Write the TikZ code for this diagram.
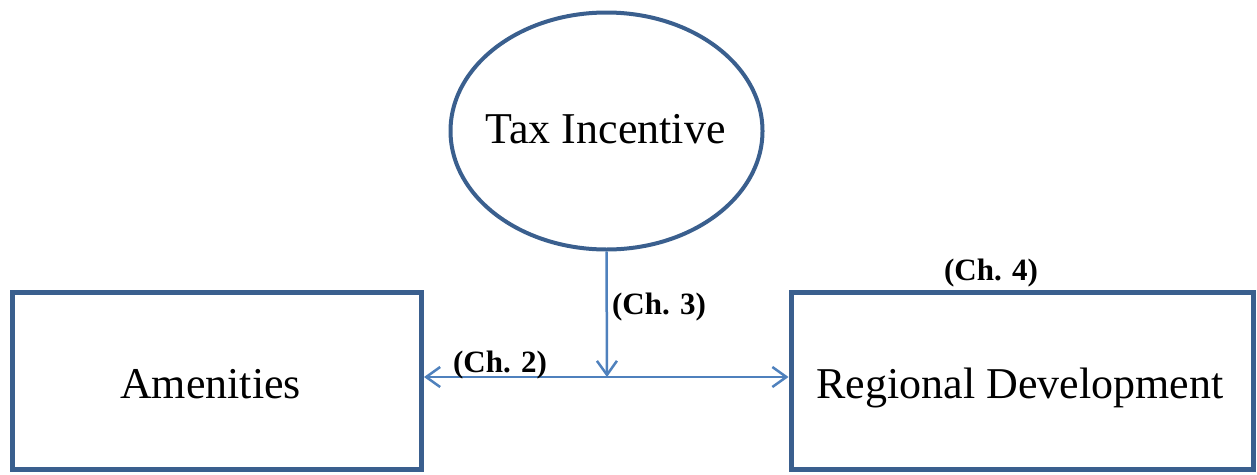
\documentclass[tikz,border=0pt]{standalone}
\usepackage{fontspec}
\setmainfont{Liberation Serif}
\usetikzlibrary{shapes.geometric,arrows.meta}
\definecolor{boxblue}{HTML}{3A5F8E}
\definecolor{lineblue}{HTML}{4F81BD}
\tikzset{
  boxnode/.style={draw=boxblue, line width=5pt, rectangle, inner sep=0pt},
  ovalnode/.style={draw=boxblue, line width=4pt, ellipse, inner sep=0pt, minimum width=312pt, minimum height=237pt},
  maintext/.style={font=\fontsize{44}{50}\selectfont, inner sep=0pt, anchor=base},
  chlabel/.style={font=\fontsize{31}{36}\selectfont\bfseries, inner sep=0pt, anchor=base},
  conn/.style={draw=lineblue, line width=2.5pt, arrows={-Straight Barb[length=14pt,width=20pt]}},
}
\begin{document}
\begin{tikzpicture}[x=1pt,y=-1pt]
\useasboundingbox (0,0) rectangle (1257,474);
\node[ovalnode] (tax) at (606.5,131) {};
\node[boxnode, minimum width=409pt, minimum height=177pt] (amen) at (217,381) {};
\node[boxnode, minimum width=462pt, minimum height=177pt] (regdev) at (1022,381) {};
\node[maintext] (taxt) at (605.5,143) {Tax Incentive};
\node[maintext] (ament) at (210.5,398) {Amenities};
\node[maintext] (regt) at (1020,398) {Regional Development};
\coordinate (junc) at (607,377);
\draw[conn] (tax.south) -- (junc);
\draw[conn, arrows={Straight Barb[length=14pt,width=20pt]-Straight Barb[length=14pt,width=20pt]}] (amen.east |- junc) -- (regdev.west |- junc);
\node[chlabel] (ch3) at (659,314) {(Ch. 3)};
\node[chlabel] (ch2) at (500,372) {(Ch. 2)};
\node[chlabel] (ch4) at (991,280) {(Ch. 4)};
\end{tikzpicture}
\end{document}
